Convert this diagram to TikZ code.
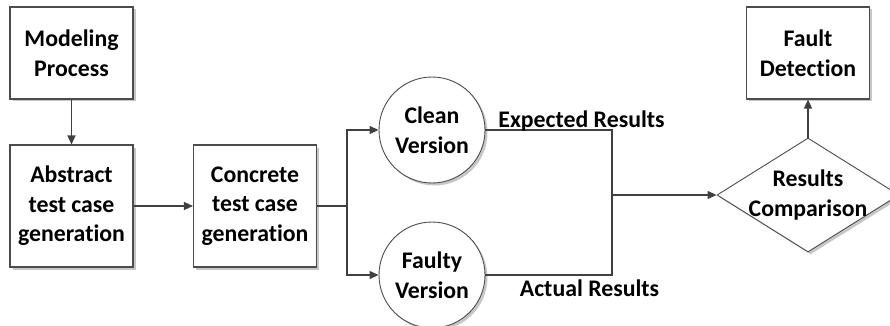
\documentclass[tikz,border=0pt]{standalone}
\usepackage{fontspec}
\setmainfont[Ligatures=NoCommon]{Carlito}
\usetikzlibrary{shapes.geometric,shadows,arrows.meta}
\begin{document}
\begin{tikzpicture}[x=1pt,y=-1pt,
  every node/.style={font=\fontsize{23.8}{29.5}\selectfont\bfseries, text=black},
  shade/.style={drop shadow={shadow xshift=2.5pt, shadow yshift=-2.5pt, fill=black!22, opacity=1}},
  procbox/.style={draw=black!70, line width=1.1pt, fill=white, shade, minimum width=123pt, align=center, inner sep=0pt},
  vcircle/.style={circle, draw=black!70, line width=0.9pt, fill=white, shade, minimum size=106pt, align=center, inner sep=0pt},
  decide/.style={diamond, draw=black!70, line width=0.9pt, fill=white, shade, minimum width=182pt, minimum height=114pt, inner sep=0pt},
  link/.style={draw=black!75, line width=1.3pt},
  flow/.style={link, -{Triangle[length=9pt,width=8pt]}},
  lbl/.style={inner sep=0pt, anchor=base}
]
\useasboundingbox (0,0) rectangle (890,326);
\begin{scope}
\clip (0,0) rectangle (890,326);
% process boxes
\node[procbox, minimum height=92pt] (model) at (71.5,53) {Modeling\\Process};
\node[procbox, minimum height=122pt] (abstract) at (71.5,206) {Abstract\\test case\\generation};
\node[procbox, minimum height=122pt] (concrete) at (255,206) {Concrete\\test case\\generation};
\node[procbox, minimum height=92pt] (fault) at (808,53) {Fault\\Detection};
% program versions
\node[vcircle] (clean) at (432,130) {Clean\\Version};
\node[vcircle] (faulty) at (432,275) {Faulty\\Version};
% comparison
\node[decide, label={[align=center, inner sep=0pt]center:Results\\Comparison}] (compare) at (808,195) {};
% junction points
\coordinate (split) at (347,206);
\coordinate (merge) at (612,195);
% connectors
\draw[flow] (model) -- (abstract);
\draw[flow] (abstract) -- (concrete);
\draw[link] (concrete.east) -- (split);
\draw[flow] (split) |- (clean.west);
\draw[flow] (split) |- (faulty.west);
\draw[link] (clean.east) -| (merge);
\draw[link] (faulty.east) -| (merge);
\draw[flow] (merge) -- (compare.west);
\draw[flow] (compare.north) -- (fault.south);
% result labels
\node[lbl] (exp) at (581.5,127) {Expected Results};
\node[lbl] (act) at (589.5,296) {Actual Results};
\end{scope}
\end{tikzpicture}
\end{document}
